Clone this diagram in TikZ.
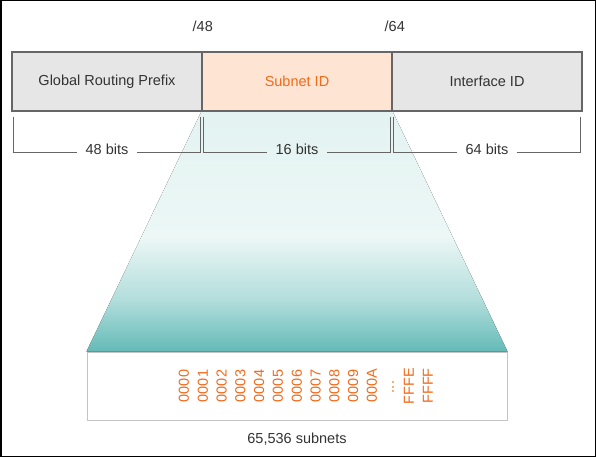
\documentclass[tikz,border=0pt]{standalone}
\usepackage{fontspec}
\setmainfont{Liberation Sans}
\usetikzlibrary{positioning,calc,backgrounds}
\usepackage{xcolor}
\definecolor{boxgray}{HTML}{E7E6E6}
\definecolor{edgegray}{HTML}{666666}
\definecolor{peach}{HTML}{FDE4D3}
\definecolor{hexorange}{HTML}{F26A1B}
\definecolor{txtgray}{HTML}{333333}
\definecolor{listedge}{HTML}{C4C4C4}
\definecolor{fanbot}{HTML}{64BAB7}
\definecolor{fanmid}{HTML}{B3DEDC}
\definecolor{fanlight}{HTML}{ECF7F6}
\definecolor{fantop}{HTML}{E3F3F1}
\pgfdeclareverticalshading{fan}{100bp}{color(0bp)=(fanbot); color(25bp)=(fanbot); color(36bp)=(fanmid); color(49bp)=(fanlight); color(75bp)=(fantop); color(100bp)=(fantop)}

\begin{document}
\begin{tikzpicture}[x=1pt,y=-1pt,
  every node/.style={font=\fontsize{14.5}{17}\selectfont, text=txtgray},
  field/.style={draw=edgegray, line width=1.5pt, minimum width=190pt, minimum height=59pt, inner sep=0pt},
  prefixlbl/.style={inner sep=0pt},
  bitlbl/.style={inner xsep=8pt, inner ysep=0pt},
  bracket/.style={draw=edgegray, line width=1.5pt},
  hexlbl/.style={text=hexorange, rotate=90, inner sep=0pt}]
\useasboundingbox (0,0) rectangle (596,457);

% Field boxes
\node[field, fill=boxgray] (grp) at (107,81.5) {Global Routing Prefix};
\node[field, fill=peach, text=hexorange, right=-1.5pt of grp] (sid) {Subnet ID};
\node[field, fill=boxgray, right=-1.5pt of sid] (iid) {Interface ID};

% Prefix lengths
\node[prefixlbl, above=19pt of grp.north east] (p48) {/48};
\node[prefixlbl, above=19pt of sid.north east, xshift=2pt] (p64) {/64};

% Subnet list box
\node[draw=listedge, line width=1pt, fill=white, minimum width=420pt, minimum height=68pt] (list) at (297,386) {};
\node[below=12pt of list, inner sep=0pt] (count) {65,536 subnets};

% Fan from Subnet ID down to the list
\begin{scope}[on background layer]
\fill[shading=fan] (sid.south west) -- (sid.south east) -- (list.north east) -- (list.north west) -- cycle;
\end{scope}

% Brackets
\foreach \f/\n in {grp/48,sid/16,iid/64}{
  \coordinate (\f-a) at ($(\f.south west)+(2.3,5)$);
  \coordinate (\f-b) at ($(\f.south east)+(-2.3,5)$);
  \coordinate (\f-c) at ($(\f-a)+(0,36)$);
  \coordinate (\f-d) at ($(\f-b)+(0,36)$);
  \node[bitlbl] (\f-bits) at ($(\f-c)!0.5!(\f-d)+(0,-3)$) {\n\ bits};
  \draw[bracket] (\f-a) -- (\f-c) -- (\f-c -| \f-bits.west);
  \draw[bracket] (\f-b) -- (\f-d) -- (\f-d -| \f-bits.east);
}

% Subnet values
\foreach \v [count=\i from 0] in {0000,0001,0002,0003,0004,0005,0006,0007,0008,0009,000A}
  \node[hexlbl] (hex\i) at (184+18.8*\i,386) {\v};
\node[hexlbl] (hexdots) at (393,387) {...};
\node[hexlbl] (hexfffe) at (409,386) {FFFE};
\node[hexlbl] (hexffff) at (428,386) {FFFF};

% Frame
\draw[line width=1.5pt] (0.75,0.75) rectangle (595.25,456.25);
\end{tikzpicture}
\end{document}
